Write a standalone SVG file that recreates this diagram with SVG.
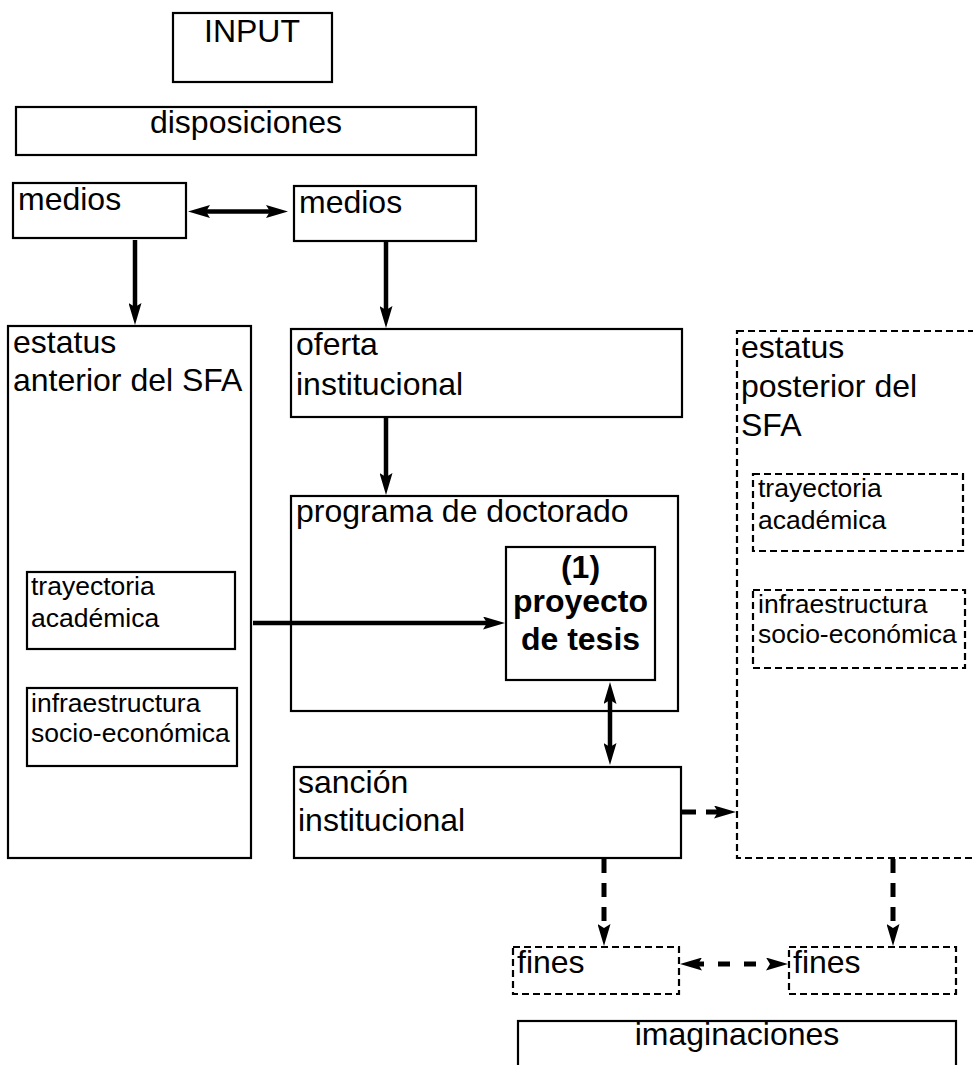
<svg xmlns="http://www.w3.org/2000/svg" width="973" height="1065" viewBox="0 0 973 1065">
  <style>
    .box { fill: #fff; stroke: #000; stroke-width: 2.2; }
    .dbox { fill: none; stroke: #000; stroke-width: 2.2; stroke-dasharray: 7 4; }
    .t { font-family: "Liberation Sans", Arial, sans-serif; font-size: 32px; fill: #000; }
    .s { font-family: "Liberation Sans", Arial, sans-serif; font-size: 26.5px; fill: #000; }
    .b { font-family: "Liberation Sans", Arial, sans-serif; font-size: 32px; font-weight: bold; fill: #000; text-anchor: middle; }
    .c { text-anchor: middle; }
    .arr { fill: none; stroke: #000; stroke-width: 4.5; marker-end: url(#head); }
    .arr2 { fill: none; stroke: #000; stroke-width: 4.5; marker-start: url(#head); marker-end: url(#head); }
    .darr { fill: none; stroke: #000; stroke-width: 5; stroke-dasharray: 14 10; marker-end: url(#head); }
    .darr2 { fill: none; stroke: #000; stroke-width: 5; stroke-dasharray: 12 14; marker-start: url(#head); marker-end: url(#head); }
  </style>
  <defs>
    <!-- filled arrowhead with a shallow notch; tip sits 12px past the line end -->
    <marker id="head" viewBox="0 0 22 13" refX="10" refY="6.5" markerWidth="22" markerHeight="13" markerUnits="userSpaceOnUse" orient="auto-start-reverse">
      <path d="M0,0 L22,6.5 L0,13 L4,6.5 z" fill="#000"/>
    </marker>
  </defs>

  <!-- nodes -->
  <g id="input">
    <rect class="box" x="173" y="13" width="159" height="69"/>
    <text class="t c" x="252" y="42">INPUT</text>
  </g>
  <g id="disposiciones">
    <rect class="box" x="16" y="107" width="460" height="48"/>
    <text class="t c" x="246" y="133">disposiciones</text>
  </g>
  <g id="medios-izq">
    <rect class="box" x="13" y="183" width="173" height="55"/>
    <text class="t" x="18" y="210">medios</text>
  </g>
  <g id="medios-der">
    <rect class="box" x="294" y="186" width="182" height="55"/>
    <text class="t" x="299" y="213">medios</text>
  </g>
  <g id="estatus-anterior">
    <rect class="box" x="8" y="326" width="243" height="532"/>
    <text class="t" x="13" y="353">estatus</text>
    <text class="t" x="13" y="391">anterior del SFA</text>
  </g>
  <g id="trayectoria-anterior">
    <rect class="box" x="27" y="572" width="208" height="77"/>
    <text class="s" x="31" y="595">trayectoria</text>
    <text class="s" x="31" y="627">académica</text>
  </g>
  <g id="infraestructura-anterior">
    <rect class="box" x="27" y="688" width="210" height="78"/>
    <text class="s" x="31" y="712">infraestructura</text>
    <text class="s" x="31" y="742">socio-económica</text>
  </g>
  <g id="oferta">
    <rect class="box" x="291" y="329" width="391" height="88"/>
    <text class="t" x="296" y="355">oferta</text>
    <text class="t" x="296" y="395">institucional</text>
  </g>
  <g id="programa">
    <rect class="box" x="291" y="496" width="387" height="215"/>
    <text class="t" x="296" y="522">programa de doctorado</text>
  </g>
  <g id="proyecto">
    <rect class="box" x="506" y="547" width="149" height="133"/>
    <text class="b" x="580.5" y="578">(1)</text>
    <text class="b" x="580.5" y="612">proyecto</text>
    <text class="b" x="580.5" y="650">de tesis</text>
  </g>
  <g id="sancion">
    <rect class="box" x="294" y="767" width="387" height="91"/>
    <text class="t" x="298" y="793">sanción</text>
    <text class="t" x="298" y="831">institucional</text>
  </g>
  <g id="estatus-posterior">
    <rect class="dbox" x="737" y="331" width="250" height="527"/>
    <text class="t" x="741" y="358">estatus</text>
    <text class="t" x="741" y="397">posterior del</text>
    <text class="t" x="741" y="436">SFA</text>
  </g>
  <g id="trayectoria-posterior">
    <rect class="dbox" x="753" y="474" width="210" height="77"/>
    <text class="s" x="758" y="497">trayectoria</text>
    <text class="s" x="758" y="529">académica</text>
  </g>
  <g id="infraestructura-posterior">
    <rect class="dbox" x="753" y="590" width="212" height="78"/>
    <text class="s" x="758" y="613">infraestructura</text>
    <text class="s" x="758" y="643">socio-económica</text>
  </g>
  <g id="fines-izq">
    <rect class="dbox" x="513" y="947" width="166" height="47"/>
    <text class="t" x="517" y="973">fines</text>
  </g>
  <g id="fines-der">
    <rect class="dbox" x="789" y="947" width="167" height="47"/>
    <text class="t" x="793" y="973">fines</text>
  </g>
  <g id="imaginaciones">
    <rect class="box" x="518" y="1021" width="438" height="70"/>
    <text class="t c" x="737" y="1045">imaginaciones</text>
  </g>

  <!-- connectors -->
  <g id="connectors">
    <line class="arr2" x1="200" y1="211.5" x2="276" y2="211.5"/>
    <line class="arr" x1="135" y1="240" x2="135" y2="313"/>
    <line class="arr" x1="386" y1="242" x2="386" y2="316"/>
    <line class="arr" x1="386" y1="418" x2="386" y2="483"/>
    <line class="arr" x1="253" y1="623" x2="493" y2="623"/>
    <line class="arr2" x1="610" y1="694" x2="610" y2="753"/>
    <line class="darr" x1="682" y1="812" x2="724" y2="812"/>
    <line class="darr" x1="604" y1="859" x2="604" y2="934"/>
    <line class="darr" x1="893" y1="859" x2="893" y2="934"/>
    <line class="darr2" x1="692" y1="964" x2="776" y2="964"/>
  </g>
</svg>
